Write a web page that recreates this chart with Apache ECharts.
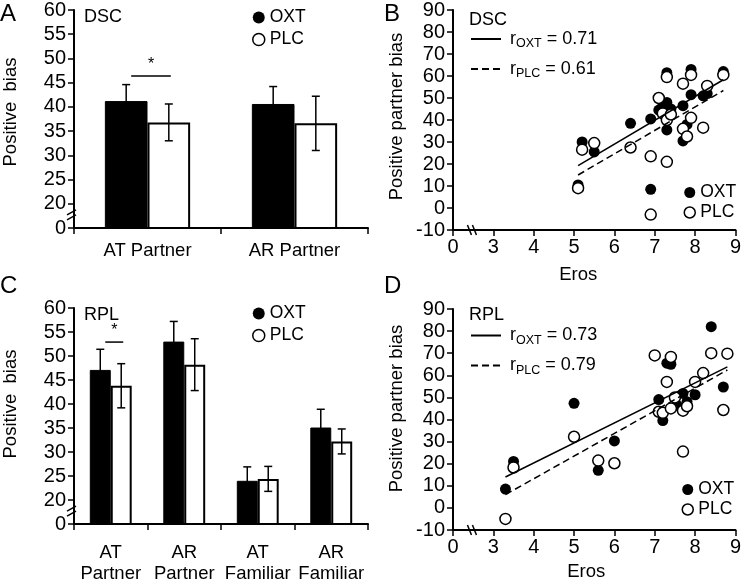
<!DOCTYPE html>
<html><head><meta charset="utf-8">
<script src="https://cdn.jsdelivr.net/npm/echarts@6/dist/echarts.min.js"></script>
<style>html,body{margin:0;padding:0;background:#fff}#c{width:744px;height:584px}</style>
</head><body><div id="c"></div>
<script>
const FONT = '"Liberation Sans", Arial, Helvetica, sans-serif';

// ---- Panel A (DSC) bar data ----
const catsA = ['AT Partner', 'AR Partner'];
const oxtA = [41.2, 40.6];
const oxtErrA = [3.4, 3.6];
const plcA = [36.8, 36.6];
const plcErrA = [3.8, 5.6];
const sigA = [[0, 46.4]];

// ---- Panel C (RPL) bar data ----
const catsC = ['AT\nPartner', 'AR\nPartner', 'AT\nFamiliar', 'AR\nFamiliar'];
const oxtC = [47.1, 53.0, 24.0, 35.1];
const oxtErrC = [4.3, 4.2, 2.9, 3.8];
const plcC = [43.8, 48.2, 24.4, 32.2];
const plcErrC = [4.6, 5.4, 2.6, 2.6];
const sigC = [[0, 52.9]];

// bar value axis (broken: lowest tick shown as 0)
const barAxisMin = 15, barAxisMax = 60, barAxisStep = 5;
const barZeroLabel = '0';

// ---- Panel B (DSC) scatter data: [Eros, positive partner bias] ----
const oxtB = [[5.2,30],[5.5,25.5],[5.1,10.5],[6.4,38.5],[6.9,40.5],[6.9,8.5],[7.1,44.5],[7.2,46.5],[7.3,61.5],[7.3,48],[7.3,35.5],[7.4,45],[7.7,46.5],[7.7,30.5],[7.8,38],[7.9,63],[7.9,51.5],[8.2,51],[8.3,52],[8.7,62]];
const plcB = [[5.2,26.5],[5.5,29.5],[5.1,9],[6.4,27.5],[6.9,23.5],[6.9,-3],[7.1,50],[7.2,43],[7.3,59.5],[7.3,40],[7.3,21],[7.4,42.5],[7.7,56.5],[7.7,36],[7.8,32.5],[7.9,60.5],[7.9,41],[8.2,36.5],[8.3,55.5],[8.7,60.5]];
const fitOxtB = [[5.1,19.3],[8.7,58.3]];
const fitPlcB = [[5.1,15],[8.7,53.4]];
const rB = ['0.71', '0.61'];

// ---- Panel D (RPL) scatter data ----
const oxtD = [[3.3,8.5],[3.5,21],[5.0,47.3],[5.6,17],[6.0,30.3],[7.1,49],[7.2,39.5],[7.3,65.5],[7.4,65],[7.55,46.5],[7.7,51.8],[7.8,48],[8.0,51.2],[8.4,82],[8.7,54.7]];
const plcD = [[3.3,-5],[3.5,18.3],[5.0,32.2],[5.6,21.4],[6.0,20.2],[7.0,69],[7.1,43.5],[7.2,43],[7.3,57],[7.4,68.3],[7.4,45],[7.5,50],[7.7,44],[7.7,25.5],[7.8,46],[8.0,57],[8.2,61],[8.4,70],[8.8,69.8],[8.7,44.3]];
const fitOxtD = [[3.3,14],[8.8,63.8]];
const fitPlcD = [[3.3,6],[8.8,62.4]];
const rD = ['0.73', '0.79'];

// scatter axes (broken: lowest x tick shown as 0)
const erosMin = 2, erosMax = 9, erosStep = 1, erosZeroLabel = '0';
const biasMin = -10, biasMax = 90, biasStep = 10;

// ---------------- layout ----------------
const GRID = [
  {left:72, top:10, width:296, height:218},   // A
  {left:72, top:308, width:296, height:221},  // C
  {left:453, top:9, width:285, height:221},   // B
  {left:453, top:309, width:285, height:221}  // D
];
const GAP_A = 0.42, GAP_C = 0.43;

const axisLine = {show:true, onZero:false, lineStyle:{color:'#000', width:2}};
const axisTick = {show:true, inside:false, length:6, lineStyle:{color:'#000', width:1.5}};
const tickLab = {color:'#000', fontSize:20, fontFamily:FONT};
const catLab = {color:'#000', fontSize:18.5, fontFamily:FONT};
const nameStyle = (pad) => ({color:'#000', fontSize:18.5, fontFamily:FONT, padding:pad});

function barY(gi, pad) {
  return {type:'value', gridIndex:gi, min:barAxisMin, max:barAxisMax, interval:barAxisStep,
    axisLine, axisTick, splitLine:{show:false},
    axisLabel:{...tickLab, margin:8, formatter:v => v === barAxisMin ? barZeroLabel : String(v)},
    name:'Positive  bias', nameLocation:'middle', nameGap:54, nameTextStyle:nameStyle(pad)};
}
function catX(gi, cats, lh, margin) {
  return {type:'category', gridIndex:gi, data:cats, axisLine, axisTick:{...axisTick, alignWithLabel:false},
    axisLabel:{...catLab, lineHeight:lh, margin:margin, interval:0}, splitLine:{show:false}};
}
function erosX(gi, pad, gap) {
  return {type:'value', gridIndex:gi, min:erosMin, max:erosMax, interval:erosStep,
    axisLine, axisTick, splitLine:{show:false},
    axisLabel:{...tickLab, margin:7, formatter:v => v === erosMin ? erosZeroLabel : String(v)},
    name:'Eros', nameLocation:'middle', nameGap:gap, nameTextStyle:nameStyle(pad)};
}
function biasY(gi, pad) {
  return {type:'value', gridIndex:gi, min:biasMin, max:biasMax, interval:biasStep,
    axisLine, axisTick, splitLine:{show:false}, axisLabel:{...tickLab, margin:8},
    name:'Positive partner bias', nameLocation:'middle', nameGap:47, nameTextStyle:nameStyle(pad)};
}

function errRender(sign, gap) {
  return function (params, api) {
    const cat = api.value(0), v = api.value(1), e = api.value(2);
    const band = api.size([1, 0])[0];
    const bw = band * (1 - gap) / 2;
    const top = api.coord([cat, v + e]);
    const bot = api.coord([cat, v - e]);
    const x = top[0] + sign * bw / 2;
    const cap = 4;
    const st = {stroke:'#000', lineWidth:1.5};
    return {type:'group', children:[
      {type:'line', shape:{x1:x, y1:top[1], x2:x, y2:bot[1]}, style:st},
      {type:'line', shape:{x1:x-cap, y1:top[1], x2:x+cap, y2:top[1]}, style:st},
      {type:'line', shape:{x1:x-cap, y1:bot[1], x2:x+cap, y2:bot[1]}, style:st}
    ]};
  };
}
function sigRender(gap) {
  return function (params, api) {
    const cat = api.value(0), y = api.value(1);
    const band = api.size([1, 0])[0];
    const bw = band * (1 - gap) / 2;
    const p = api.coord([cat, y]);
    const x1 = p[0] - bw / 2 + 5, x2 = p[0] + bw / 2 + 2;
    return {type:'group', children:[
      {type:'line', shape:{x1:x1, y1:p[1], x2:x2, y2:p[1]}, style:{stroke:'#000', lineWidth:1.5}},
      {type:'text', x:(x1 + x2) / 2, y:p[1] - 3, style:{text:'*', fill:'#000', font:'16px ' + FONT, align:'center', verticalAlign:'bottom'}}
    ]};
  };
}
const withErr = (vals, errs) => vals.map((v, i) => [i, v, errs[i]]);

function barSeries(xi, oxt, oxtErr, plc, plcErr, sig, gap) {
  return [
    {type:'bar', name:'OXT', xAxisIndex:xi, yAxisIndex:xi, data:oxt, barGap:'0%', barCategoryGap:(gap*100)+'%',
      itemStyle:{color:'#000', borderColor:'#000', borderWidth:1}, silent:true},
    {type:'bar', name:'PLC', xAxisIndex:xi, yAxisIndex:xi, data:plc, barGap:'0%', barCategoryGap:(gap*100)+'%',
      itemStyle:{color:'#fff', borderColor:'#000', borderWidth:2}, silent:true},
    {type:'custom', name:'errOXT', xAxisIndex:xi, yAxisIndex:xi, data:withErr(oxt, oxtErr), renderItem:errRender(-1, gap), z:5, silent:true},
    {type:'custom', name:'errPLC', xAxisIndex:xi, yAxisIndex:xi, data:withErr(plc, plcErr), renderItem:errRender(1, gap), z:5, silent:true},
    {type:'custom', name:'sig', xAxisIndex:xi, yAxisIndex:xi, data:sig, renderItem:sigRender(gap), z:5, silent:true}
  ];
}
function scatterSeries(ai, oxt, plc, fitO, fitP, tag) {
  return [
    {type:'scatter', name:'OXT', xAxisIndex:ai, yAxisIndex:ai, data:oxt, symbol:'circle', symbolSize:11,
      itemStyle:{color:'#000', opacity:1}, silent:true},
    {type:'scatter', name:'PLC', xAxisIndex:ai, yAxisIndex:ai, data:plc, symbol:'circle', symbolSize:11,
      itemStyle:{color:'#fff', borderColor:'#000', borderWidth:1.5, opacity:1}, silent:true},
    {type:'line', name:'rOXT_' + tag, xAxisIndex:ai, yAxisIndex:ai, data:fitO, symbol:'none', color:'#000',
      itemStyle:{color:'#000'}, lineStyle:{color:'#000', width:1.5, type:'solid'}, z:6, silent:true},
    {type:'line', name:'rPLC_' + tag, xAxisIndex:ai, yAxisIndex:ai, data:fitP, symbol:'none', color:'#000',
      itemStyle:{color:'#000'}, lineStyle:{color:'#000', width:1.5, type:[7, 4]}, z:6, silent:true}
  ];
}

const dotLegend = (left, top, gap, size) => ({
  left, top, orient:'vertical', padding:0, itemGap:gap, itemWidth:size, itemHeight:size, selectedMode:false,
  textStyle:{color:'#000', fontSize:17.5, fontFamily:FONT},
  data:[
    {name:'OXT', icon:'circle', itemStyle:{color:'#000', borderWidth:0}},
    {name:'PLC', icon:'circle', itemStyle:{color:'#fff', borderColor:'#000', borderWidth:1.5}}
  ]
});
const rText = {rOXT_B:['OXT', rB[0]], rPLC_B:['PLC', rB[1]], rOXT_D:['OXT', rD[0]], rPLC_D:['PLC', rD[1]]};
const lineLegend = (left, top, tag) => ({
  left, top, orient:'vertical', padding:0, itemGap:7, itemWidth:30, itemHeight:14, selectedMode:false,
  textStyle:{color:'#000', fontSize:18, fontFamily:FONT,
    rich:{
      r:{fontSize:18, fontFamily:FONT, lineHeight:24, color:'#000', padding:[0,0,0,4]},
      s:{fontSize:12.5, fontFamily:FONT, lineHeight:14, color:'#000', padding:[10,0,0,0]},
      e:{fontSize:18, fontFamily:FONT, lineHeight:24, color:'#000'}
    }},
  formatter: n => '{r|r}{s|' + rText[n][0] + '}{e| = ' + rText[n][1] + '}',
  data:['rOXT_' + tag, 'rPLC_' + tag].map(n => ({name:n, icon:'inherit',
    itemStyle:{color:'rgba(0,0,0,0)', borderColor:'rgba(0,0,0,0)', borderWidth:0}}))
});

const txt = (x, y, s, size, va) => ({type:'text', x, y, silent:true,
  style:{text:s, fill:'#000', font:size + 'px ' + FONT, verticalAlign:va || 'middle'}});

const option = {
  animation:false,
  backgroundColor:'#fff',
  grid:GRID.map(g => ({...g, containLabel:false})),
  xAxis:[catX(0, catsA, 20, 13), catX(1, catsC, 21, 18), erosX(2, [0,32,0,0], 35), erosX(3, [0,16,0,0], 32)],
  yAxis:[barY(0, [0,0,0,14]), barY(1, [0,0,0,24]), biasY(2, [0,0,0,7]), biasY(3, [0,0,0,22])],
  legend:[
    dotLegend(252, 8.5, 4, 12),
    dotLegend(252, 304.5, 4, 12),
    dotLegend(683.5, 183.5, 2, 11),
    dotLegend(681.5, 480.5, 2, 11),
    lineLegend(470, 27.5, 'B'),
    lineLegend(470, 324, 'D')
  ],
  series:[
    ...barSeries(0, oxtA, oxtErrA, plcA, plcErrA, sigA, GAP_A),
    ...barSeries(1, oxtC, oxtErrC, plcC, plcErrC, sigC, GAP_C),
    ...scatterSeries(2, oxtB, plcB, fitOxtB, fitPlcB, 'B'),
    ...scatterSeries(3, oxtD, plcD, fitOxtD, fitPlcD, 'D')
  ],
  graphic:[
    txt(0, 14, 'A', 24), txt(384, 14, 'B', 24), txt(0, 286, 'C', 24), txt(384, 286, 'D', 24),
    txt(84, 17, 'DSC', 18), txt(469, 20, 'DSC', 18), txt(84, 315, 'RPL', 18), txt(469, 315, 'RPL', 18)
  ]
};

const chart = echarts.init(document.getElementById('c'), null, {renderer:'canvas'});
chart.setOption(option);

// axis-break marks, positioned through the axes
const brk = [];
const st = {stroke:'#000', lineWidth:1.5};
[0, 1].forEach(i => {
  const y = chart.convertToPixel({yAxisIndex:i}, (barAxisMin + 20) / 2 + 0.2);
  const x = GRID[i].left;
  [-2.5, 2.5].forEach(d => brk.push({type:'line', silent:true, z:10,
    shape:{x1:x-5, y1:y+d+2.5, x2:x+4, y2:y+d-2.5}, style:st}));
});
[2, 3].forEach(i => {
  const x = chart.convertToPixel({xAxisIndex:i}, erosMin + 0.47);
  const y = GRID[i].top + GRID[i].height;
  [-2.5, 2.5].forEach(d => brk.push({type:'line', silent:true, z:10,
    shape:{x1:x+d-2, y1:y-5, x2:x+d+2, y2:y+5}, style:st}));
});
chart.setOption({graphic: option.graphic.concat(brk)});
</script>
</body></html>
